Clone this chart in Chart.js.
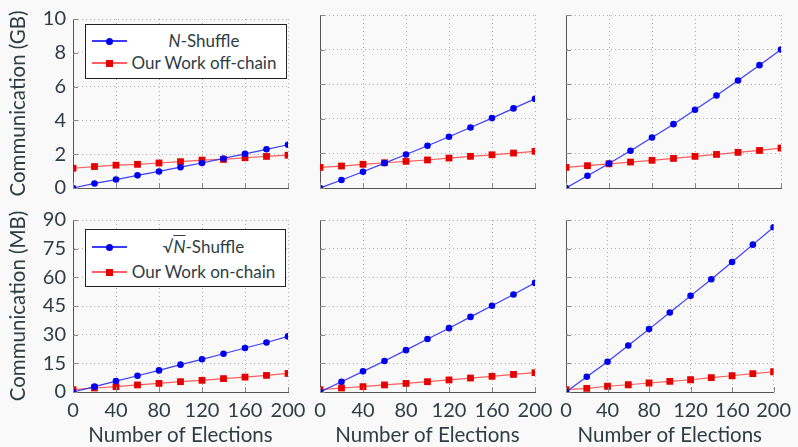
<!DOCTYPE html>
<html>
<head>
<meta charset="utf-8">
<script src="https://cdn.jsdelivr.net/npm/chart.js@4.4.0/dist/chart.umd.min.js"></script>
<style>
  html, body { margin: 0; padding: 0; background: #f9f9f9; overflow: hidden; }
  #wrap { position: relative; width: 798px; height: 447px; font-family: Lato, sans-serif; color: #2e3d44; }
  #wrap canvas { position: absolute; left: 0; top: 0; }
  .legend { position: absolute; background: #fff; border: 1px solid #222; box-sizing: border-box; }
  .row { position: absolute; left: 0; width: 100%; height: 0; }
  .sample { position: absolute; left: 6px; width: 35px; height: 1.4px; top: -0.7px; }
  .mark { position: absolute; left: 20px; width: 7px; height: 7px; top: -3.5px; }
  .label { position: absolute; left: 42px; right: 6px; top: -11px; line-height: 22px; font-size: 17px; text-align: center; white-space: nowrap; }
  .sq { text-decoration: overline; }
</style>
</head>
<body>
<div id="wrap">
  <canvas id="c00" width="798" height="447"></canvas>
  <canvas id="c01" width="798" height="447"></canvas>
  <canvas id="c02" width="798" height="447"></canvas>
  <canvas id="c10" width="798" height="447"></canvas>
  <canvas id="c11" width="798" height="447"></canvas>
  <canvas id="c12" width="798" height="447"></canvas>

  <div class="legend" style="left:85px; top:24px; width:202px; height:55px;">
    <div class="row" style="top:16px;">
      <div class="sample" style="background:#3c3cff;"></div>
      <div class="mark" style="background:#0000ee; border-radius:50%;"></div>
      <div class="label"><i>N</i>-Shuffle</div>
    </div>
    <div class="row" style="top:38px;">
      <div class="sample" style="background:#ff6060;"></div>
      <div class="mark" style="background:#e60000;"></div>
      <div class="label">Our Work off-chain</div>
    </div>
  </div>

  <div class="legend" style="left:85px; top:229px; width:201px; height:58px;">
    <div class="row" style="top:17px;">
      <div class="sample" style="background:#3c3cff;"></div>
      <div class="mark" style="background:#0000ee; border-radius:50%;"></div>
      <div class="label">√<span class="sq"><i>N</i></span>-Shuffle</div>
    </div>
    <div class="row" style="top:42px;">
      <div class="sample" style="background:#ff6060;"></div>
      <div class="mark" style="background:#e60000;"></div>
      <div class="label">Our Work on-chain</div>
    </div>
  </div>
</div>

<script>
/**
 * Data
 */
const elections = [0, 20, 40, 60, 80, 100, 120, 140, 160, 180, 200];

// top row, communication in GB
const shuffleGB1 = [0, 0.27, 0.5, 0.75, 0.98, 1.23, 1.48, 1.75, 2.02, 2.29, 2.56];
const shuffleGB2 = [0, 0.46, 0.94, 1.44, 1.94, 2.44, 2.96, 3.5, 4.04, 4.6, 5.15];
const shuffleGB3 = [0, 0.71, 1.42, 2.15, 2.92, 3.69, 4.52, 5.35, 6.21, 7.1, 8.0];
const offChainGB1 = [1.17, 1.27, 1.35, 1.4, 1.48, 1.56, 1.65, 1.69, 1.79, 1.87, 1.94];
const offChainGB2 = [1.19, 1.27, 1.37, 1.46, 1.54, 1.62, 1.73, 1.83, 1.92, 2.02, 2.12];
const offChainGB3 = [1.19, 1.29, 1.4, 1.5, 1.6, 1.71, 1.83, 1.94, 2.06, 2.17, 2.31];

// bottom row, communication in MB
const sqrtShuffleMB1 = [0, 2.8, 5.7, 8.5, 11.3, 14.3, 17.1, 20.0, 23.0, 25.9, 29.1];
const sqrtShuffleMB2 = [0, 5.4, 10.8, 16.2, 21.9, 27.7, 33.4, 39.3, 45.1, 51.0, 57.1];
const sqrtShuffleMB3 = [0, 8.0, 15.8, 24.3, 32.9, 41.6, 50.3, 59.0, 68.0, 77.1, 86.2];
const onChainMB1 = [1.2, 2.1, 2.8, 3.7, 4.5, 5.4, 6.1, 7.0, 7.8, 8.7, 9.7];
const onChainMB2 = [1.2, 2.1, 2.8, 3.7, 4.5, 5.4, 6.3, 7.3, 8.2, 9.2, 10.1];
const onChainMB3 = [1.2, 1.9, 3.0, 3.8, 4.7, 5.6, 6.4, 7.5, 8.5, 9.6, 10.6];

// tick labels
const xTicks = [0, 40, 80, 120, 160, 200];
const yTicksGB = [0, 2, 4, 6, 8, 10];
const yTicksMB = [0, 15, 30, 45, 60, 75, 90];

/**
 * Plot boxes of the 2x3 grid
 */
const PLOT_LEFT = [73, 320, 566];
const PLOT_RIGHT = [288, 535, 781];
const PLOT_TOP = [15, 220];
const PLOT_BOTTOM = [188, 392];
const TEXT_COLOR = '#2e3d44';
const FONT = 'Lato, sans-serif';

/**
 * Small inward tick marks like pgfplots draws them
 */
const innerTicks = {
    id: 'innerTicks',
    afterDraw(chart) {
        const {ctx, chartArea, scales} = chart;
        ctx.save();
        ctx.strokeStyle = '#8a8a8a';
        ctx.lineWidth = 1;
        ctx.beginPath();
        scales.x.ticks.forEach(t => {
            const px = Math.round(scales.x.getPixelForValue(t.value)) + 0.5;
            ctx.moveTo(px, chartArea.bottom);
            ctx.lineTo(px, chartArea.bottom - 5);
        });
        scales.y.ticks.forEach(t => {
            const py = Math.round(scales.y.getPixelForValue(t.value)) + 0.5;
            ctx.moveTo(chartArea.left, py);
            ctx.lineTo(chartArea.left + 5, py);
        });
        ctx.stroke();
        ctx.restore();
    }
};

function toPoints(values) {
    return values.map((v, i) => ({x: elections[i], y: v}));
}

/**
 * Builds one panel
 */
function makeChart(id, row, col, shuffle, ours) {
    const yAxisWidth = col === 0 ? 73 : 0;
    const xAxisHeight = row === 1 ? 56 : 0;
    const yTicks = row === 0 ? yTicksGB : yTicksMB;

    return new Chart(document.getElementById(id), {
        type: 'line',
        data: {
            datasets: [
                {
                    data: toPoints(shuffle),
                    borderColor: 'rgba(40,40,255,0.9)',
                    backgroundColor: '#0000ee',
                    borderWidth: 1.2,
                    pointStyle: 'circle',
                    pointRadius: 3.3,
                    pointBorderWidth: 0,
                    tension: 0
                },
                {
                    data: toPoints(ours),
                    borderColor: 'rgba(255,40,40,0.75)',
                    backgroundColor: '#e60000',
                    borderWidth: 1.2,
                    pointStyle: 'rect',
                    pointRadius: 4.8,
                    pointBorderWidth: 0,
                    tension: 0
                }
            ]
        },
        options: {
            responsive: false,
            animation: false,
            events: [],
            layout: {
                padding: {
                    left: PLOT_LEFT[col] - yAxisWidth,
                    right: 798 - PLOT_RIGHT[col],
                    top: PLOT_TOP[row],
                    bottom: 447 - PLOT_BOTTOM[row] - xAxisHeight
                }
            },
            plugins: {
                legend: {display: false},
                tooltip: {enabled: false}
            },
            scales: {
                x: {
                    type: 'linear',
                    min: 0,
                    max: 200,
                    afterBuildTicks: s => { s.ticks = xTicks.map(v => ({value: v})); },
                    afterFit: s => { s.height = xAxisHeight; },
                    border: {color: '#555', width: 1, dash: [1, 3]},
                    grid: {color: '#b0b0b0', drawTicks: false},
                    ticks: {
                        display: row === 1,
                        color: TEXT_COLOR,
                        padding: 7,
                        maxRotation: 0,
                        font: {family: FONT, size: 20}
                    },
                    title: {
                        display: row === 1,
                        text: 'Number of Elections',
                        color: TEXT_COLOR,
                        padding: {top: 0, bottom: 0},
                        font: {family: FONT, size: 20.5}
                    }
                },
                y: {
                    type: 'linear',
                    min: 0,
                    max: yTicks[yTicks.length - 1],
                    afterBuildTicks: s => { s.ticks = yTicks.map(v => ({value: v})); },
                    afterFit: s => { s.width = yAxisWidth; },
                    border: {color: '#555', width: 1, dash: [1, 3]},
                    grid: {color: '#b0b0b0', drawTicks: false},
                    ticks: {
                        display: col === 0,
                        color: TEXT_COLOR,
                        padding: 7,
                        font: {family: FONT, size: 20}
                    },
                    title: {
                        display: col === 0,
                        text: row === 0 ? 'Communication (GB)' : 'Communication (MB)',
                        color: TEXT_COLOR,
                        padding: {top: 6, bottom: 0},
                        font: {family: FONT, size: 20.5}
                    }
                }
            }
        },
        plugins: [innerTicks]
    });
}

makeChart('c00', 0, 0, shuffleGB1, offChainGB1);
makeChart('c01', 0, 1, shuffleGB2, offChainGB2);
makeChart('c02', 0, 2, shuffleGB3, offChainGB3);
makeChart('c10', 1, 0, sqrtShuffleMB1, onChainMB1);
makeChart('c11', 1, 1, sqrtShuffleMB2, onChainMB2);
makeChart('c12', 1, 2, sqrtShuffleMB3, onChainMB3);
</script>
</body>
</html>
